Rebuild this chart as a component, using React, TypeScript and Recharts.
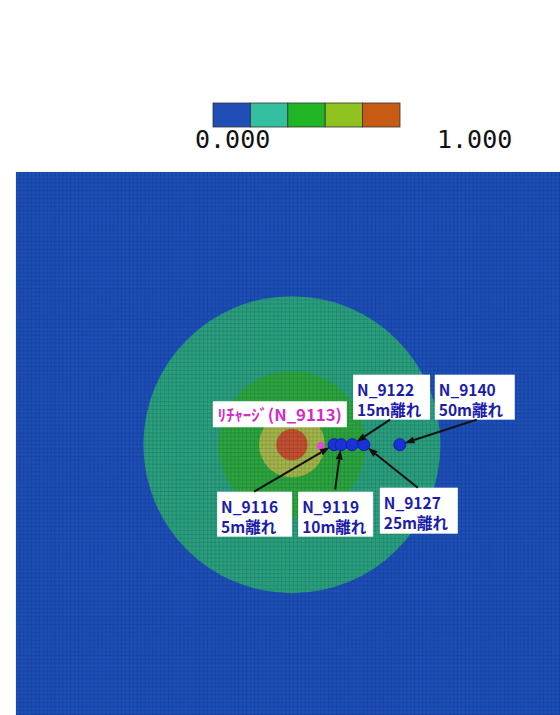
import React from 'react'
import { ScatterChart, Scatter, XAxis, YAxis, CartesianGrid, ReferenceDot } from 'recharts'

// colour bar (5 bands, 0 -> 1)
const legendColors = ['#1f4db5', '#33bfa0', '#1fb524', '#8fc21f', '#c75b14']
const legendLabels = ['0.000', '1.000']

// concentration bands around the plume centre, radius in m (outer -> inner)
const plumeX = -18.5
const plumeY = 0
const bandRadius = [95, 47, 21, 10]
const bandColors = ['#2a9f7b', '#2ca53c', '#a3b548', '#c3502d']

// recharge node
const rechargeName = 'ﾘﾁｬｰｼﾞ(N_9113)'
const rechargeX = 0
const rechargeY = -1

// observation nodes
const wellNames = ['N_9116', 'N_9119', 'N_9122', 'N_9127', 'N_9140']
const wellDist = ['5m離れ', '10m離れ', '15m離れ', '25m離れ', '50m離れ']
const wellX = [8.5, 13, 20, 27.5, 50.5]
const wellY = [0, 0, 0, 0, 0]

const wells = wellNames.map((name, i) => ({ name, dist: wellDist[i], x: wellX[i], y: wellY[i], i }))
const recharge = [{ name: rechargeName, x: rechargeX, y: rechargeY }]

// layout
const W = 560
const H = 715
const M = { top: 172, right: 0, bottom: 0, left: 16 }
const X_DOMAIN: [number, number] = [-195, 153]
const Y_DOMAIN: [number, number] = [-173, 174.5]
const PX_PER_M = (W - M.left - M.right) / (X_DOMAIN[1] - X_DOMAIN[0])
const BG = '#1d4fb6'
const TEXT_BLUE = '#1c1cab'
const JP = '"Noto Sans CJK JP", "Noto Sans", sans-serif'

// FEM mesh lines (every 2.5 m), used as hidden axis ticks for the grid
const meshX: number[] = []
for (let v = -192.5; v < 153; v += 2.5) meshX.push(v)
const meshY: number[] = []
for (let v = -172.5; v < 174.5; v += 2.5) meshY.push(v)

// callout boxes, pixel offsets from the node: [dx, dy, w, h], arrow tail [dx, dy]
const callouts = [
  { box: [-117, 47, 75, 45], tail: [-80, 47] },
  { box: [-43, 47, 75, 45], tail: [-6, 45] },
  { box: [1, -70, 77, 45], tail: [38, -25] },
  { box: [16, 43, 78, 46], tail: [54, 43] },
  { box: [35, -70, 80, 45], tail: [77, -25] },
]

const WellDot = (props: any) => {
  const { cx, cy } = props
  return <circle cx={cx} cy={cy} r={6} fill="#1a30d8" stroke="#1222a0" strokeWidth={1} />
}

const RechargeDot = (props: any) => {
  const { cx, cy } = props
  return <circle cx={cx} cy={cy} r={4} fill="#e24ad6" />
}

const Arrow = ({ x1, y1, x2, y2 }: { x1: number; y1: number; x2: number; y2: number }) => {
  const dx = x2 - x1
  const dy = y2 - y1
  const len = Math.sqrt(dx * dx + dy * dy)
  const ux = dx / len
  const uy = dy / len
  // stop at the dot edge
  const hx = x2 - ux * 5
  const hy = y2 - uy * 5
  const bx = hx - ux * 10
  const by = hy - uy * 10
  const px = -uy * 3.5
  const py = ux * 3.5
  return (
    <g>
      <line x1={x1} y1={y1} x2={bx} y2={by} stroke="#111" strokeWidth={2} />
      <polygon points={`${hx},${hy} ${bx + px},${by + py} ${bx - px},${by - py}`} fill="#111" />
    </g>
  )
}

const Callout = (props: any) => {
  const { cx, cy, payload } = props
  const c = callouts[payload.i]
  const [bx, by, bw, bh] = c.box
  const x0 = cx + bx
  const y0 = cy + by
  return (
    <g>
      <rect x={x0} y={y0} width={bw} height={bh} fill="#fff" />
      <text x={x0 + 4} y={y0 + 21} fontFamily={JP} fontWeight={700} fontSize={15.5} fill={TEXT_BLUE}>
        {payload.name}
      </text>
      <text x={x0 + 4} y={y0 + 41} fontFamily={JP} fontWeight={700} fontSize={15.5} fill={TEXT_BLUE}>
        {payload.dist}
      </text>
      <Arrow x1={cx + c.tail[0]} y1={cy + c.tail[1]} x2={cx} y2={cy} />
    </g>
  )
}

const RechargeLabel = (props: any) => {
  const { cx, cy, payload } = props
  const x0 = cx - 108
  const y0 = cy - 45
  return (
    <g>
      <rect x={x0} y={y0} width={134} height={26} fill="#fff" />
      <text
        x={x0 + 5}
        y={y0 + 20}
        fontFamily={JP}
        fontWeight={700}
        fontSize={16}
        fill="#d62bc8"
        textLength={124}
        lengthAdjust="spacingAndGlyphs"
      >
        {payload.name}
      </text>
    </g>
  )
}

const ColorBar = () => {
  const x0 = 213
  const y0 = 103
  const sw = 37.4
  const sh = 24
  return (
    <svg width={W} height={170} style={{ position: 'absolute', left: 0, top: 0 }}>
      {legendColors.map((c, i) => (
        <rect key={c} x={x0 + i * sw} y={y0} width={sw} height={sh} fill={c} stroke="#333" strokeWidth={0.8} />
      ))}
      <text x={195} y={148} fontFamily='"DejaVu Sans Mono", monospace' fontSize={25} fill="#111">
        {legendLabels[0]}
      </text>
      <text x={437} y={148} fontFamily='"DejaVu Sans Mono", monospace' fontSize={25} fill="#111">
        {legendLabels[1]}
      </text>
    </svg>
  )
}

export default function App() {
  return (
    <div style={{ position: 'relative', width: W, height: H, background: '#fff' }}>
      <style>{'body{margin:0}'}</style>
      <ColorBar />
      <ScatterChart width={W} height={H} margin={M}>
        <XAxis type="number" dataKey="x" domain={X_DOMAIN} ticks={meshX} interval={0} hide allowDataOverflow />
        <YAxis type="number" dataKey="y" domain={Y_DOMAIN} ticks={meshY} interval={0} hide allowDataOverflow />
        <CartesianGrid fill={BG} stroke="none" horizontal={false} vertical={false} />
        {bandRadius.map((r, i) => (
          <ReferenceDot
            key={r}
            x={plumeX}
            y={plumeY}
            r={r * PX_PER_M}
            fill={bandColors[i]}
            stroke="none"
            zIndex={50}
          />
        ))}
        <CartesianGrid fill="none" stroke="#001040" strokeOpacity={0.12} zIndex={80} />
        <Scatter data={recharge} shape={RechargeDot} isAnimationActive={false} />
        <Scatter data={wells} shape={WellDot} isAnimationActive={false} />
        <Scatter data={wells} shape={Callout} isAnimationActive={false} />
        <Scatter data={recharge} shape={RechargeLabel} isAnimationActive={false} />
      </ScatterChart>
    </div>
  )
}
